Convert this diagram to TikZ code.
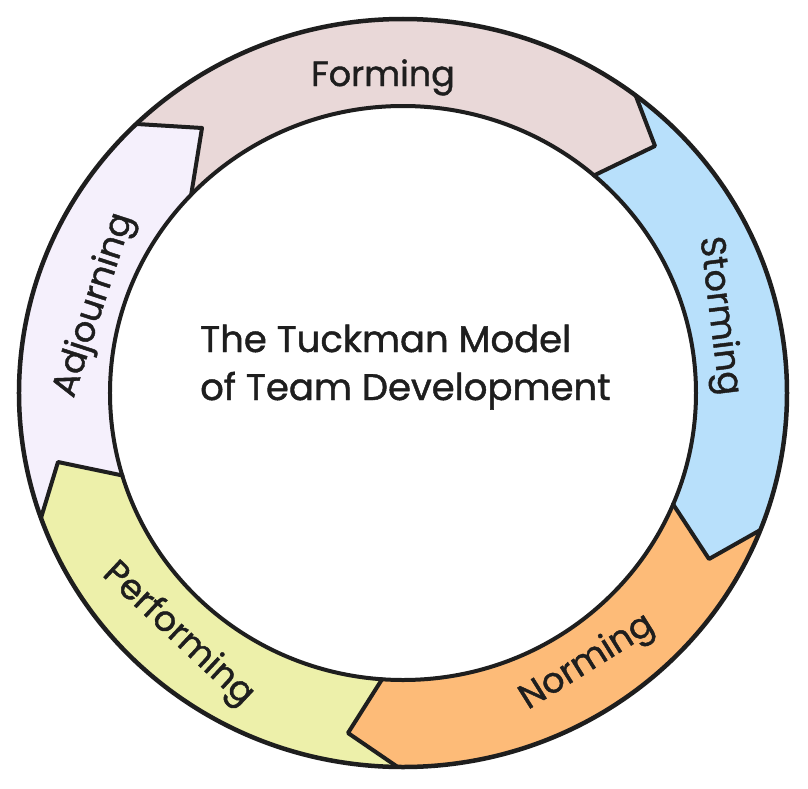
\documentclass[tikz,border=0pt]{standalone}
\usepackage{fontspec}
\setmainfont{Poppins}
\newfontfamily\handfont{Poppins}[FakeBold=1.2]
\definecolor{ink}{HTML}{1E1E1E}
\definecolor{cForm}{HTML}{E9D8D8}
\definecolor{cStorm}{HTML}{B8E0FB}
\definecolor{cNorm}{HTML}{FDBB78}
\definecolor{cPerf}{HTML}{EDF0AA}
\definecolor{cAdj}{HTML}{F5F0FC}
\begin{document}
\begin{tikzpicture}[x=1pt,y=1pt,
  ring/.style={line width=4pt, draw=ink, line join=round, line cap=round},
  lbl/.style={font=\handfont\fontsize{35}{40}\selectfont, text=ink, inner sep=0pt},
  ttl/.style={font=\handfont\fontsize{37}{44}\selectfont, text=ink, inner sep=0pt},
  oarc/.style={x radius=384pt, y radius=374pt},
  iarc/.style={x radius=293pt, y radius=287pt}]
\useasboundingbox (-403,-395) rectangle (405,393);
\fill[white] (-403,-395) rectangle (405,393);
% boundary points: outer, tip, inner
\coordinate (o1) at (134:384pt and 374pt);
\coordinate (i1) at (136.3:293pt and 287pt);
\coordinate (t1) at (-201,265);
\coordinate (o2) at (52.7:384pt and 374pt);
\coordinate (i2) at (49.3:293pt and 287pt);
\coordinate (t2) at (252,247);
\coordinate (o3) at (-21.5:384pt and 374pt);
\coordinate (i3) at (-22.8:293pt and 287pt);
\coordinate (t3) at (306,-166);
\coordinate (o4) at (-90.8:384pt and 374pt);
\coordinate (i4) at (-94.1:293pt and 287pt);
\coordinate (t4) at (-55,-340);
\coordinate (o5) at (199.5:384pt and 374pt);
\coordinate (i5) at (196.7:293pt and 287pt);
\coordinate (t5) at (-345,-69);
% segment fills
\fill[cForm] (o1) arc[start angle=134, end angle=52.7, oarc] -- (t2) -- (i2)
  arc[start angle=49.3, end angle=136.3, iarc] -- (t1) -- cycle;
\fill[cStorm] (o2) arc[start angle=52.7, end angle=-21.5, oarc] -- (t3) -- (i3)
  arc[start angle=-22.8, end angle=49.3, iarc] -- (t2) -- cycle;
\fill[cNorm] (o3) arc[start angle=-21.5, end angle=-90.8, oarc] -- (t4) -- (i4)
  arc[start angle=-94.1, end angle=-22.8, iarc] -- (t3) -- cycle;
\fill[cPerf] (o4) arc[start angle=-90.8, end angle=-160.5, oarc] -- (t5) -- (i5)
  arc[start angle=-163.3, end angle=-94.1, iarc] -- (t4) -- cycle;
\fill[cAdj] (o5) arc[start angle=199.5, end angle=134, oarc] -- (t1) -- (i1)
  arc[start angle=136.3, end angle=196.7, iarc] -- (t5) -- cycle;
% outlines
\draw[ring, line width=4.5pt] (0,0) ellipse[oarc];
\draw[ring] (0,0) ellipse[iarc];
\draw[ring] (o1) -- (t1) -- (i1);
\draw[ring] (o2) -- (t2) -- (i2);
\draw[ring] (o3) -- (t3) -- (i3);
\draw[ring] (o4) -- (t4) -- (i4);
\draw[ring] (o5) -- (t5) -- (i5);
% labels
\node[lbl, anchor=base] (forming) at (-20,307) {Forming};
\node[lbl, anchor=base, rotate=-83] (storming) at (307,76) {Storming};
\node[lbl, anchor=base, rotate=32] (norming) at (189,-277) {Norming};
\node[lbl, anchor=base, rotate=-43] (performing) at (-231,-248) {Performing};
\node[lbl, anchor=base, rotate=72] (adjourning) at (-300,85) {Adjourning};
\node[ttl, anchor=base west] (title1) at (-203,41) {The Tuckman Model};
\node[ttl, anchor=base west] (title2) at (-203,-7) {of Team Development};
\end{tikzpicture}
\end{document}
